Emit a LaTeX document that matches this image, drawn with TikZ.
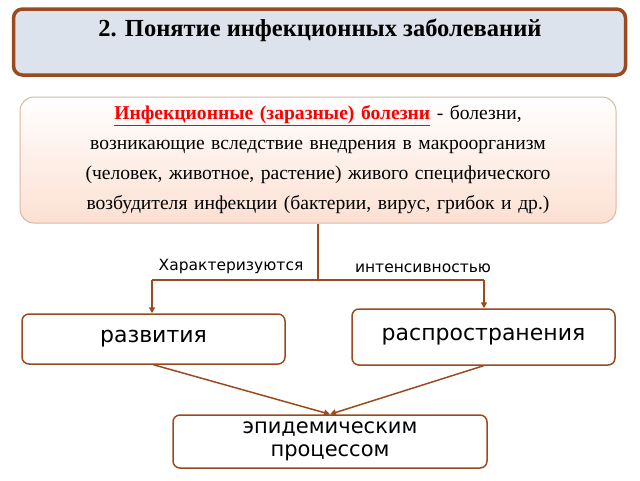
\documentclass[tikz,border=0pt]{standalone}
\usepackage{fontspec}
\setmainfont{Liberation Serif}
\newfontfamily\dvs{DejaVu Sans}
\usetikzlibrary{arrows.meta,patterns}
\definecolor{brn}{HTML}{9A4A1E}
\definecolor{peach}{HTML}{FCE0D2}
\definecolor{hdr}{HTML}{DCE3EC}
\begin{document}
\begin{tikzpicture}[x=1pt,y=-1pt,
  box/.style={draw=brn,line width=1.5pt,rounded corners=7pt,fill=white,font=\dvs\fontsize{22}{24}\selectfont,align=center},
  conn/.style={draw=brn,line width=1.5pt},
  arr/.style={conn,-{Triangle[length=6pt,width=6pt]}}]
\useasboundingbox (0,0) rectangle (640,480);
\node[draw=brn,line width=3.5pt,rounded corners=9pt,fill=hdr,minimum width=612pt,minimum height=66pt] (title) at (319.5,42) {};
\node[font=\bfseries\fontsize{24.5}{26}\selectfont] (tt) at (320,30) {2. Понятие инфекционных заболеваний};
\node[draw=brn!40,line width=1pt,rounded corners=14pt,top color=white,bottom color=peach,minimum width=596pt,minimum height=126pt] (def) at (318,160) {};
\node[text width=594pt,align=center,inner sep=0pt,font=\fontsize{19.6}{30}\selectfont] (deft) at (318,160)
 {{\color{red}\bfseries\underline{Инфекционные (заразные) болезни}} - болезни, возникающие вследствие внедрения в макроорганизм (человек, животное, растение) живого специфического возбудителя инфекции (бактерии, вирус, грибок и~др.)};
\coordinate (j) at (318,280);
\coordinate (l) at (152,280);
\coordinate (r) at (484,280);
\draw[conn] (def.south -| j) -- (j);
\draw[conn] (l) -- (r);
\node[font=\dvs\fontsize{15.5}{17}\selectfont] (c1) at (231,266) {Характеризуются};
\node[font=\dvs\fontsize{15.5}{17}\selectfont] (c2) at (423,268) {интенсивностью};
\node[box,minimum width=263pt,minimum height=50pt] (dev) at (153.5,339) {развития};
\node[box,minimum width=263pt,minimum height=56pt] (spr) at (483.5,337) {распространения};
\node[box,minimum width=314pt,minimum height=53pt,inner sep=1pt,font=\dvs\fontsize{21}{23}\selectfont] (epi) at (330,441.5) {эпидемическим\\процессом};
\draw[arr] (l) -- (dev.north -| l);
\draw[arr] (r) -- (spr.north -| r);
\draw[arr] (dev.south) -- (epi.north);
\draw[arr] (spr.south) -- (epi.north);
\end{tikzpicture}
\end{document}
